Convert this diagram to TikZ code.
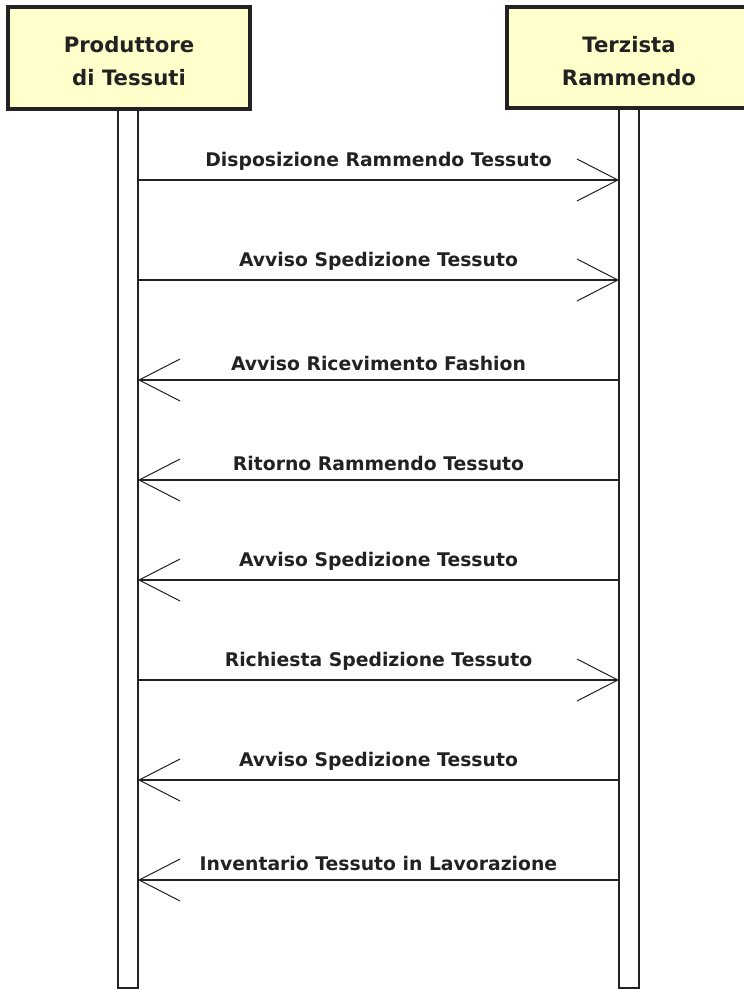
\documentclass[tikz,border=0pt]{standalone}
\usepackage{fontspec}
\setsansfont{DejaVu Sans}
\usetikzlibrary{arrows.meta}
\definecolor{actorfill}{RGB}{255,255,204}
\definecolor{inkgray}{RGB}{34,34,34}
\tikzset{
	actor/.style={draw=inkgray, line width=3.5pt, fill=actorfill, text=inkgray,
		font=\sffamily\bfseries\fontsize{21.2}{33}\selectfont, align=center,
		inner sep=0pt},
	lifeline/.style={draw=inkgray, line width=1.5pt, fill=white},
	msg/.style={draw=inkgray, line width=1.3pt,
		-{Straight Barb[length=41pt, width=42pt, line width=1pt]}},
	msglabel/.style={text=inkgray, font=\sffamily\bfseries\fontsize{18.8}{20}\selectfont,
		inner sep=0pt}
}

\begin{document}
\begin{tikzpicture}[x=1pt, y=-1pt]
		%%%%% START %%%%%
		\useasboundingbox (0, 0) rectangle (744, 989);
		\clip (0, 0) rectangle (744, 989);
		
		% lifelines
		\draw[lifeline] (118, 100) rectangle (138, 988);
		\draw[lifeline] (619, 100) rectangle (639, 988);
		\coordinate (plife) at (138, 0);
		\coordinate (tlife) at (619, 0);
		
		% actors
		\draw[actor] (8, 7) rectangle (250, 109);
		\node[actor, draw=none, fill=none] (prod) at (129, 61) {Produttore\\di Tessuti};
		\draw[actor] (507, 7) rectangle (751, 108);
		\node[actor, draw=none, fill=none] (terz) at (629, 61) {Terzista\\Rammendo};
		
		% messages
		\draw[msg] (plife |- 0, 180) -- (tlife |- 0, 180)
			node[msglabel, midway, above=9pt] (m1) {Disposizione Rammendo Tessuto};
		\draw[msg] (plife |- 0, 280) -- (tlife |- 0, 280)
			node[msglabel, midway, above=9pt] (m2) {Avviso Spedizione Tessuto};
		\draw[msg] (tlife |- 0, 380) -- (plife |- 0, 380)
			node[msglabel, midway, above=9pt] (m3) {Avviso Ricevimento Fashion};
		\draw[msg] (tlife |- 0, 480) -- (plife |- 0, 480)
			node[msglabel, midway, above=9pt] (m4) {Ritorno Rammendo Tessuto};
		\draw[msg] (tlife |- 0, 580) -- (plife |- 0, 580)
			node[msglabel, midway, above=9pt] (m5) {Avviso Spedizione Tessuto};
		\draw[msg] (plife |- 0, 680) -- (tlife |- 0, 680)
			node[msglabel, midway, above=9pt] (m6) {Richiesta Spedizione Tessuto};
		\draw[msg] (tlife |- 0, 780) -- (plife |- 0, 780)
			node[msglabel, midway, above=9pt] (m7) {Avviso Spedizione Tessuto};
		\draw[msg] (tlife |- 0, 880) -- (plife |- 0, 880)
			node[msglabel, midway, above=9pt] (m8) {Inventario Tessuto in Lavorazione};
		
		%%%%% END %%%%%
\end{tikzpicture}
\end{document}
